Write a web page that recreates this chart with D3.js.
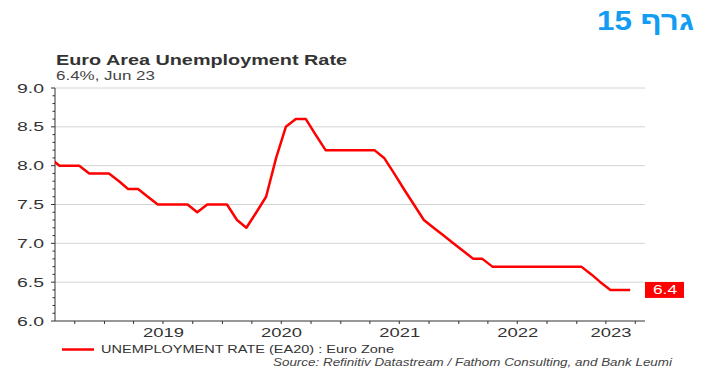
<!DOCTYPE html>
<html>
<head>
<meta charset="utf-8">
<script src="https://cdn.jsdelivr.net/npm/d3@7"></script>
<style>
  body { margin: 0; background: #fff; }
  svg { display: block; font-family: "Liberation Sans", Arial, sans-serif; }
</style>
</head>
<body>
<svg id="chart" width="704" height="388"></svg>
<script>
// monthly euro area unemployment, Jul 2018 .. Jun 2023
let startMonth = "2018-07";
let rates = [8.1,
  8.0, 8.0, 8.0, 7.9, 7.9,
  7.9, 7.8, 7.7, 7.7, 7.6, 7.5, 7.5, 7.5, 7.5, 7.4, 7.5, 7.5,
  7.5, 7.3, 7.2, 7.4, 7.6, 8.1, 8.5, 8.6, 8.6, 8.4, 8.2, 8.2,
  8.2, 8.2, 8.2, 8.2, 8.1, 7.9, 7.7, 7.5, 7.3, 7.2, 7.1, 7.0,
  6.9, 6.8, 6.8, 6.7, 6.7, 6.7, 6.7, 6.7, 6.7, 6.7, 6.7, 6.7,
  6.7, 6.6, 6.5, 6.4, 6.4, 6.4];
let yTicks = [6.0, 6.5, 7.0, 7.5, 8.0, 8.5, 9.0];
let yearLabels = ["2019", "2020", "2021", "2022", "2023"];
let title = "Euro Area Unemployment Rate";
let subtitle = "6.4%, Jun 23";
let seriesName = "UNEMPLOYMENT RATE (EA20) : Euro Zone";
let source = "Source: Refinitiv Datastream / Fathom Consulting, and Bank Leumi";
let heading = "גרף 15";

let parseMonth = d3.timeParse("%Y-%m");
let first = parseMonth(startMonth);
let data = rates.map(function(v, i){
    let m = d3.timeMonth.offset(first, i);
    return {date: new Date(m.getFullYear(), m.getMonth(), 15), value: v};
});

let svg = d3.select("#chart");
let plotL = 55, plotR = 645, plotT = 88, plotB = 321;

let x = d3.scaleTime()
    .domain([new Date(2018, 7, 1), new Date(2023, 6, 31)])
    .range([plotL, plotR]);
let y = d3.scaleLinear().domain([6, 9]).range([plotB, plotT]);

// heading (hebrew)
svg.append("text")
    .attr("x", 694).attr("y", 30)
    .attr("direction", "rtl")
    .attr("text-anchor", "start")
    .attr("fill", "#129df2")
    .attr("font-family", "'Liberation Sans Narrow', 'Arial Narrow', 'Liberation Sans', sans-serif")
    .attr("font-size", 27)
    .attr("font-weight", "bold")
    .attr("textLength", 97).attr("lengthAdjust", "spacingAndGlyphs")
    .text(heading);

svg.append("text")
    .attr("x", 56).attr("y", 65)
    .attr("font-size", 14).attr("font-weight", "bold").attr("fill", "#333")
    .attr("textLength", 291).attr("lengthAdjust", "spacingAndGlyphs")
    .text(title);
svg.append("text")
    .attr("x", 56).attr("y", 80)
    .attr("font-size", 12).attr("fill", "#444")
    .attr("textLength", 99).attr("lengthAdjust", "spacingAndGlyphs")
    .text(subtitle);

// gridlines
svg.append("g")
    .selectAll("line")
    .data(yTicks.filter(function(d){ return d > 6; }))
    .enter().append("line")
    .attr("x1", plotL).attr("x2", plotR)
    .attr("y1", function(d){ return y(d); })
    .attr("y2", function(d){ return y(d); })
    .attr("stroke", "#d4d4d4")
    .attr("stroke-width", 1);

// y axis with minor ticks
let yAxis = svg.append("g").attr("transform", "translate(" + plotL + ",0)");
yAxis.append("line").attr("y1", plotT).attr("y2", plotB).attr("stroke", "#333");
yAxis.selectAll("line.minor")
    .data(d3.range(60, 91).map(function(d){ return d / 10; }))
    .enter().append("line")
    .attr("class", "minor")
    .attr("x1", function(d){ return Math.round(d * 10) % 5 == 0 ? -4 : -2.5; })
    .attr("x2", 0)
    .attr("y1", function(d){ return y(d); })
    .attr("y2", function(d){ return y(d); })
    .attr("stroke", "#333");
yAxis.selectAll("text")
    .data(yTicks)
    .enter().append("text")
    .attr("x", -11).attr("y", function(d){ return y(d) + 4.5; })
    .attr("text-anchor", "end")
    .attr("font-size", 12).attr("fill", "#333")
    .attr("textLength", 27).attr("lengthAdjust", "spacingAndGlyphs")
    .text(function(d){ return d.toFixed(1); });

// x axis, quarterly ticks
let xAxis = svg.append("g");
xAxis.append("line").attr("x1", plotL).attr("x2", plotR)
    .attr("y1", plotB).attr("y2", plotB).attr("stroke", "#333");
xAxis.selectAll("line.tick")
    .data(d3.timeMonth.every(3).range(x.domain()[0], x.domain()[1]))
    .enter().append("line")
    .attr("class", "tick")
    .attr("x1", function(d){ return x(d); })
    .attr("x2", function(d){ return x(d); })
    .attr("y1", plotB).attr("y2", plotB + 3)
    .attr("stroke", "#333");
xAxis.selectAll("text")
    .data(yearLabels)
    .enter().append("text")
    .attr("x", function(d){
        let a = x(new Date(+d, 0, 1));
        let b = Math.min(x(new Date(+d + 1, 0, 1)), plotR);
        return (a + b) / 2;
    })
    .attr("y", 337)
    .attr("text-anchor", "middle")
    .attr("font-size", 12).attr("fill", "#333")
    .attr("textLength", 41).attr("lengthAdjust", "spacingAndGlyphs")
    .text(function(d){ return d; });

// the series
svg.append("clipPath").attr("id", "plotClip")
    .append("rect").attr("x", plotL).attr("y", plotT - 5)
    .attr("width", plotR - plotL).attr("height", plotB - plotT + 5);

let line = d3.line()
    .x(function(d){ return x(d.date); })
    .y(function(d){ return y(d.value); });

svg.append("path")
    .datum(data)
    .attr("clip-path", "url(#plotClip)")
    .attr("fill", "none")
    .attr("stroke", "#ff0000")
    .attr("stroke-width", 2.5)
    .attr("stroke-linejoin", "round")
    .attr("d", line);

// last value box
let last = data[data.length - 1];
svg.append("rect")
    .attr("x", plotR).attr("y", y(last.value) - 8)
    .attr("width", 39).attr("height", 16)
    .attr("fill", "#ff0000");
svg.append("text")
    .attr("x", plotR + 20).attr("y", y(last.value) + 4.5)
    .attr("text-anchor", "middle")
    .attr("font-size", 12).attr("fill", "#fff")
    .attr("textLength", 24).attr("lengthAdjust", "spacingAndGlyphs")
    .text(last.value.toFixed(1));

// legend and source
svg.append("line")
    .attr("x1", 62).attr("x2", 94).attr("y1", 349.5).attr("y2", 349.5)
    .attr("stroke", "#ff0000").attr("stroke-width", 2.5);
svg.append("text")
    .attr("x", 101).attr("y", 353)
    .attr("font-size", 10).attr("fill", "#333")
    .attr("textLength", 293).attr("lengthAdjust", "spacingAndGlyphs")
    .text(seriesName);
svg.append("text")
    .attr("x", 273).attr("y", 366)
    .attr("font-size", 10).attr("font-style", "italic").attr("fill", "#444")
    .attr("textLength", 399).attr("lengthAdjust", "spacingAndGlyphs")
    .text(source);
</script>
</body>
</html>
